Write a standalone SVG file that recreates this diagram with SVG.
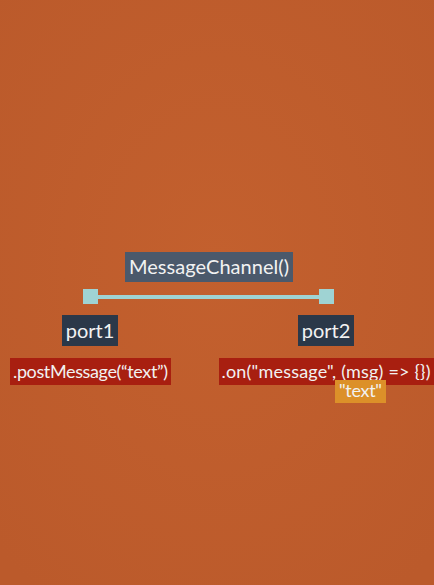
<svg xmlns="http://www.w3.org/2000/svg" width="434" height="585" viewBox="0 0 434 585">
<style>
text{font-family:Lato,"Open Sans","Liberation Sans",sans-serif;fill:#f2f2f2}
.t20{font-size:20px}
.t18{font-size:18px}
.port{fill:#2b3849}
.sq{fill:#9fd3d3}
</style>
<defs>
<radialGradient id="bg" cx="0.5" cy="0.45" r="0.7">
<stop offset="0" stop-color="#c3602e"/>
<stop offset="1" stop-color="#bb5a2b"/>
</radialGradient>
</defs>
<rect width="434" height="585" fill="url(#bg)"/>
<g id="connectors">
<line x1="90" y1="297" x2="326" y2="297" stroke="#9fd3d3" stroke-width="4"/>
<rect class="sq" x="83" y="289" width="15" height="15"/>
<rect class="sq" x="319" y="289" width="15" height="15"/>
</g>
<g id="channel">
<rect x="125" y="252" width="168" height="30" fill="#4b596b"/>
<text class="t20" x="209" y="274" text-anchor="middle" textLength="160">MessageChannel()</text>
</g>
<g id="port1">
<rect class="port" x="62" y="315" width="56" height="31"/>
<text class="t20" x="90" y="338" text-anchor="middle">port1</text>
</g>
<g id="port2">
<rect class="port" x="298" y="315" width="56" height="31"/>
<text class="t20" x="326" y="338" text-anchor="middle">port2</text>
</g>
<g id="post">
<rect x="10" y="358" width="161" height="27" fill="#a81f10"/>
<text class="t18" x="90.5" y="378" text-anchor="middle" textLength="155">.postMessage(“text”)</text>
</g>
<g id="on">
<rect x="219" y="358" width="215" height="27" fill="#a81f10"/>
<text class="t18" x="326" y="378" text-anchor="middle" textLength="209">.on("message", (msg) =&gt; {})</text>
</g>
<g id="payload">
<rect x="335" y="380" width="51" height="23" fill="#dc9029"/>
<text class="t18" x="360.5" y="397" text-anchor="middle" textLength="43">"text"</text>
</g>
</svg>
